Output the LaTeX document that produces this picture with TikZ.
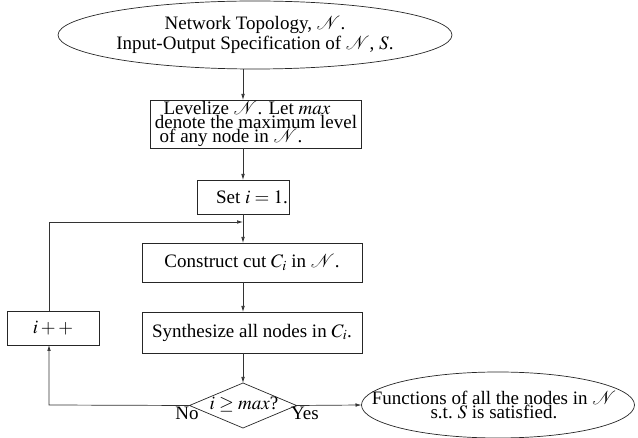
\documentclass[tikz,border=0pt]{standalone}
\usepackage{mathptmx}
\usepackage{fontspec}
\setmainfont{Liberation Serif}
\usetikzlibrary{shapes.geometric,arrows.meta}
\newcommand{\NN}{\mathcal{N}}
\begin{document}
\begin{tikzpicture}[x=1pt,y=-1pt,
  every node/.style={inner sep=0pt, outer sep=0pt},
  txt/.style={font={\fontsize{19}{#1}\selectfont\lineskiplimit=-50pt}, align=center},
  txt/.default=20,
  shape line/.style={draw=black!85, line width=0.7pt},
  box/.style={shape line, rectangle},
  oval/.style={shape line, ellipse},
  choice/.style={shape line, diamond},
  flow/.style={draw=black!80, line width=0.7pt, -{Latex[length=6pt,width=3.6pt]}},
  ]
\useasboundingbox (0,0) rectangle (638,438);

% start: the inputs
\node[oval, txt=20.5, minimum width=394pt, minimum height=68pt] (top) at (255,35)
  {Network Topology, $\NN$.\\Input-Output Specification of $\NN$, $S$.};

% processing steps
\node[box, txt=14.2, minimum width=211pt, minimum height=48pt] (lev) at (256,124)
  {Levelize $\NN$. Let $max$\hspace*{18pt}\\denote the maximum level\hspace*{14pt}\\of any node in $\NN$.\hspace*{50pt}};
\node[box, txt, minimum width=92pt, minimum height=34pt] (setb) at (243,197)
  {\hspace*{18pt}Set $i=1$.};
\node[box, txt, minimum width=220pt, minimum height=39pt] (con) at (252,262.5)
  {Construct cut $C_i$ in $\NN$.};
\node[box, txt, minimum width=220pt, minimum height=41pt] (syn) at (252,332.5)
  {Synthesize all nodes in $C_i$.};
\node[box, txt, minimum width=92pt, minimum height=34pt] (inc) at (53,328)
  {$i++$};

% decision
\node[choice, minimum width=107pt, minimum height=45pt] (dec) at (243,405.5) {};
\node[txt] (dectext) at (244,404) {$i\geq max$?};
\node[txt, anchor=base] (no) at (187,420) {No};
\node[txt, anchor=base] (yes) at (305,420) {Yes};

% result
\node[oval, minimum width=273pt, minimum height=66pt] (fin) at (498,405) {};
\node[txt=14] (fintext) at (494,405)
  {Functions of all the nodes in $\NN$\\s.t.\ $S$ is satisfied.};

% loop corners
\coordinate (cornerT) at (49,222);
\coordinate (cornerB) at (49,405);

% connectors
\draw[flow] (top.south -| setb) -- (lev.north -| setb);
\draw[flow] (lev.south -| setb) -- (setb.north);
\draw[flow] (setb.south) -- (con.north -| setb);
\draw[flow] (con.south -| setb) -- (syn.north -| setb);
\draw[flow] (syn.south -| setb) -- (dec.north);
\draw[flow] (dec.west) -- (cornerB) -- (inc.south -| cornerB);
\draw[flow] (inc.north -| cornerT) -- (cornerT) -- (cornerT -| setb);
\draw[flow] (dec.east) -- (fin.west);
\end{tikzpicture}
\end{document}
